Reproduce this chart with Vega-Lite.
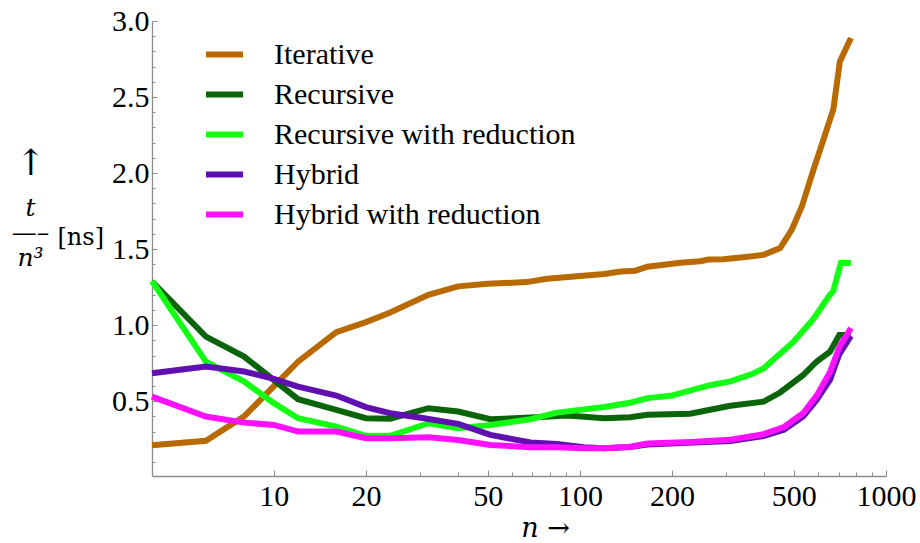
{
  "$schema": "https://vega.github.io/schema/vega-lite/v6.json",
  "width": 734,
  "height": 455,
  "autosize": {"type": "none"},
  "padding": {"left": 152, "top": 21, "right": 34, "bottom": 67},
  "background": "white",
  "config": {
    "view": {"stroke": null},
    "font": "Times New Roman, Liberation Serif, serif",
    "axis": {"labelFont": "Times New Roman, Liberation Serif, serif"},
    "legend": {"labelFont": "Times New Roman, Liberation Serif, serif"}
  },
  "data": {
    "values": [
      {"s": "Iterative", "n": 4, "t": 0.21},
      {"s": "Iterative", "n": 6, "t": 0.24},
      {"s": "Iterative", "n": 8, "t": 0.40},
      {"s": "Iterative", "n": 12, "t": 0.76},
      {"s": "Iterative", "n": 16, "t": 0.954},
      {"s": "Iterative", "n": 20, "t": 1.02},
      {"s": "Iterative", "n": 24, "t": 1.083},
      {"s": "Iterative", "n": 32, "t": 1.199},
      {"s": "Iterative", "n": 40, "t": 1.255},
      {"s": "Iterative", "n": 50, "t": 1.272},
      {"s": "Iterative", "n": 67, "t": 1.283},
      {"s": "Iterative", "n": 78, "t": 1.305},
      {"s": "Iterative", "n": 120, "t": 1.337},
      {"s": "Iterative", "n": 136, "t": 1.353},
      {"s": "Iterative", "n": 152, "t": 1.358},
      {"s": "Iterative", "n": 166, "t": 1.384},
      {"s": "Iterative", "n": 213, "t": 1.41},
      {"s": "Iterative", "n": 247, "t": 1.42},
      {"s": "Iterative", "n": 263, "t": 1.431},
      {"s": "Iterative", "n": 294, "t": 1.433},
      {"s": "Iterative", "n": 360, "t": 1.452},
      {"s": "Iterative", "n": 398, "t": 1.462},
      {"s": "Iterative", "n": 451, "t": 1.507},
      {"s": "Iterative", "n": 492, "t": 1.627},
      {"s": "Iterative", "n": 531, "t": 1.78},
      {"s": "Iterative", "n": 579, "t": 2.02},
      {"s": "Iterative", "n": 640, "t": 2.285},
      {"s": "Iterative", "n": 673, "t": 2.42},
      {"s": "Iterative", "n": 707, "t": 2.734},
      {"s": "Iterative", "n": 768, "t": 2.888},

      {"s": "Recursive", "n": 4, "t": 1.287},
      {"s": "Recursive", "n": 6, "t": 0.925},
      {"s": "Recursive", "n": 8, "t": 0.793},
      {"s": "Recursive", "n": 12, "t": 0.513},
      {"s": "Recursive", "n": 16, "t": 0.443},
      {"s": "Recursive", "n": 20, "t": 0.388},
      {"s": "Recursive", "n": 24, "t": 0.385},
      {"s": "Recursive", "n": 32, "t": 0.454},
      {"s": "Recursive", "n": 40, "t": 0.432},
      {"s": "Recursive", "n": 51, "t": 0.381},
      {"s": "Recursive", "n": 69, "t": 0.392},
      {"s": "Recursive", "n": 91, "t": 0.405},
      {"s": "Recursive", "n": 120, "t": 0.388},
      {"s": "Recursive", "n": 146, "t": 0.395},
      {"s": "Recursive", "n": 166, "t": 0.41},
      {"s": "Recursive", "n": 229, "t": 0.418},
      {"s": "Recursive", "n": 310, "t": 0.47},
      {"s": "Recursive", "n": 398, "t": 0.497},
      {"s": "Recursive", "n": 451, "t": 0.557},
      {"s": "Recursive", "n": 537, "t": 0.673},
      {"s": "Recursive", "n": 594, "t": 0.761},
      {"s": "Recursive", "n": 656, "t": 0.826},
      {"s": "Recursive", "n": 704, "t": 0.936},
      {"s": "Recursive", "n": 768, "t": 0.936},

      {"s": "Recursive with reduction", "n": 4, "t": 1.29},
      {"s": "Recursive with reduction", "n": 6, "t": 0.76},
      {"s": "Recursive with reduction", "n": 8, "t": 0.629},
      {"s": "Recursive with reduction", "n": 10, "t": 0.487},
      {"s": "Recursive with reduction", "n": 12, "t": 0.388},
      {"s": "Recursive with reduction", "n": 16, "t": 0.333},
      {"s": "Recursive with reduction", "n": 20, "t": 0.272},
      {"s": "Recursive with reduction", "n": 24, "t": 0.272},
      {"s": "Recursive with reduction", "n": 32, "t": 0.355},
      {"s": "Recursive with reduction", "n": 40, "t": 0.322},
      {"s": "Recursive with reduction", "n": 51, "t": 0.344},
      {"s": "Recursive with reduction", "n": 69, "t": 0.381},
      {"s": "Recursive with reduction", "n": 84, "t": 0.425},
      {"s": "Recursive with reduction", "n": 120, "t": 0.462},
      {"s": "Recursive with reduction", "n": 146, "t": 0.49},
      {"s": "Recursive with reduction", "n": 166, "t": 0.52},
      {"s": "Recursive with reduction", "n": 198, "t": 0.535},
      {"s": "Recursive with reduction", "n": 266, "t": 0.605},
      {"s": "Recursive with reduction", "n": 310, "t": 0.63},
      {"s": "Recursive with reduction", "n": 367, "t": 0.68},
      {"s": "Recursive with reduction", "n": 398, "t": 0.715},
      {"s": "Recursive with reduction", "n": 498, "t": 0.89},
      {"s": "Recursive with reduction", "n": 579, "t": 1.04},
      {"s": "Recursive with reduction", "n": 656, "t": 1.2},
      {"s": "Recursive with reduction", "n": 672, "t": 1.221},
      {"s": "Recursive with reduction", "n": 712, "t": 1.408},
      {"s": "Recursive with reduction", "n": 768, "t": 1.408},

      {"s": "Hybrid", "n": 4, "t": 0.684},
      {"s": "Hybrid", "n": 6, "t": 0.728},
      {"s": "Hybrid", "n": 8, "t": 0.695},
      {"s": "Hybrid", "n": 10, "t": 0.647},
      {"s": "Hybrid", "n": 12, "t": 0.596},
      {"s": "Hybrid", "n": 16, "t": 0.537},
      {"s": "Hybrid", "n": 20, "t": 0.461},
      {"s": "Hybrid", "n": 24, "t": 0.421},
      {"s": "Hybrid", "n": 31, "t": 0.388},
      {"s": "Hybrid", "n": 40, "t": 0.351},
      {"s": "Hybrid", "n": 51, "t": 0.278},
      {"s": "Hybrid", "n": 69, "t": 0.228},
      {"s": "Hybrid", "n": 84, "t": 0.219},
      {"s": "Hybrid", "n": 103, "t": 0.197},
      {"s": "Hybrid", "n": 120, "t": 0.191},
      {"s": "Hybrid", "n": 146, "t": 0.198},
      {"s": "Hybrid", "n": 166, "t": 0.215},
      {"s": "Hybrid", "n": 310, "t": 0.238},
      {"s": "Hybrid", "n": 398, "t": 0.27},
      {"s": "Hybrid", "n": 464, "t": 0.312},
      {"s": "Hybrid", "n": 537, "t": 0.40},
      {"s": "Hybrid", "n": 594, "t": 0.51},
      {"s": "Hybrid", "n": 656, "t": 0.64},
      {"s": "Hybrid", "n": 704, "t": 0.81},
      {"s": "Hybrid", "n": 768, "t": 0.93},

      {"s": "Hybrid with reduction", "n": 4, "t": 0.53},
      {"s": "Hybrid with reduction", "n": 6, "t": 0.399},
      {"s": "Hybrid with reduction", "n": 8, "t": 0.359},
      {"s": "Hybrid with reduction", "n": 10, "t": 0.344},
      {"s": "Hybrid with reduction", "n": 12, "t": 0.30},
      {"s": "Hybrid with reduction", "n": 16, "t": 0.30},
      {"s": "Hybrid with reduction", "n": 20, "t": 0.256},
      {"s": "Hybrid with reduction", "n": 24, "t": 0.256},
      {"s": "Hybrid with reduction", "n": 32, "t": 0.263},
      {"s": "Hybrid with reduction", "n": 40, "t": 0.245},
      {"s": "Hybrid with reduction", "n": 51, "t": 0.212},
      {"s": "Hybrid with reduction", "n": 69, "t": 0.197},
      {"s": "Hybrid with reduction", "n": 84, "t": 0.197},
      {"s": "Hybrid with reduction", "n": 103, "t": 0.191},
      {"s": "Hybrid with reduction", "n": 120, "t": 0.19},
      {"s": "Hybrid with reduction", "n": 146, "t": 0.201},
      {"s": "Hybrid with reduction", "n": 166, "t": 0.222},
      {"s": "Hybrid with reduction", "n": 229, "t": 0.232},
      {"s": "Hybrid with reduction", "n": 310, "t": 0.247},
      {"s": "Hybrid with reduction", "n": 398, "t": 0.283},
      {"s": "Hybrid with reduction", "n": 464, "t": 0.33},
      {"s": "Hybrid with reduction", "n": 537, "t": 0.422},
      {"s": "Hybrid with reduction", "n": 594, "t": 0.538},
      {"s": "Hybrid with reduction", "n": 656, "t": 0.69},
      {"s": "Hybrid with reduction", "n": 704, "t": 0.856},
      {"s": "Hybrid with reduction", "n": 768, "t": 0.98}
    ]
  },
  "encoding": {
    "x": {
      "field": "n",
      "type": "quantitative",
      "scale": {"type": "log", "domain": [4, 1000], "nice": false},
      "axis": {
        "values": [10, 20, 30, 40, 50, 60, 70, 80, 90, 100, 200, 300, 400, 500, 600, 700, 800, 900, 1000],
        "labelExpr": "indexof([10,20,50,100,200,500,1000], datum.value) >= 0 ? '' + datum.value : ''",
        "labelOverlap": false,
        "labelFlush": false,
        "labelBound": false,
        "grid": false,
        "domainColor": "#8c8c8c",
        "domainWidth": 1.3,
        "tickColor": "#8c8c8c",
        "tickWidth": 1,
        "tickSize": {"condition": {"test": "indexof([10,20,50,100,200,500,1000], datum.value) >= 0", "value": -6}, "value": -4},
        "labelPadding": 11,
        "labelFontSize": 30,
        "labelColor": "black",
        "title": "n →",
        "titleFont": "DejaVu Serif",
        "titleFontStyle": "italic",
        "titleFontWeight": "normal",
        "titleFontSize": 27,
        "titleColor": "black",
        "titleAlign": "center",
        "titleBaseline": "alphabetic",
        "titleX": 393,
        "titleY": 60
      }
    },
    "color": {
      "field": "s",
      "type": "nominal",
      "scale": {
        "domain": ["Iterative", "Recursive", "Recursive with reduction", "Hybrid", "Hybrid with reduction"],
        "range": ["#B86A00", "#0A640A", "#14FF14", "#6010B0", "#FF10FF"]
      },
      "legend": {
        "title": null,
        "orient": "none",
        "legendX": 51,
        "legendY": 12,
        "padding": 0,
        "symbolType": "stroke",
        "symbolSize": 1369,
        "symbolStrokeWidth": 6,
        "labelFontSize": 30,
        "labelColor": "black",
        "labelOffset": 28,
        "rowPadding": 3,
        "labelLimit": 0
      }
    },
    "order": {"field": "n", "type": "quantitative"}
  },
  "layer": [
    {
      "transform": [{"filter": {"field": "s", "oneOf": ["Iterative", "Recursive", "Recursive with reduction"]}}],
      "mark": {"type": "line", "strokeWidth": 6, "strokeJoin": "miter", "clip": false},
      "encoding": {
        "y": {
          "field": "t",
          "type": "quantitative",
          "scale": {"domain": [0.008, 3.0], "nice": false, "zero": false},
          "axis": {
            "orient": "left",
            "values": [0.1, 0.2, 0.3, 0.4, 0.5, 0.6, 0.7, 0.8, 0.9, 1.0, 1.1, 1.2, 1.3, 1.4, 1.5, 1.6, 1.7, 1.8, 1.9, 2.0, 2.1, 2.2, 2.3, 2.4, 2.5, 2.6, 2.7, 2.8, 2.9, 3.0],
            "labelExpr": "indexof([0.5,1,1.5,2,2.5,3], datum.value) >= 0 ? format(datum.value, '.1f') : ''",
            "labelOverlap": false,
            "labelFlush": false,
            "labelBound": false,
            "grid": false,
            "domainColor": "#8c8c8c",
            "domainWidth": 1.3,
            "tickColor": "#8c8c8c",
            "tickWidth": 1,
            "tickSize": {"condition": {"test": "indexof([0.5,1,1.5,2,2.5,3], datum.value) >= 0", "value": -5}, "value": -3},
            "labelPadding": 8,
            "labelFontSize": 30,
            "labelColor": "black",
            "title": "[ns]",
            "titleFont": "DejaVu Serif",
            "titleFontWeight": "normal",
            "titleFontSize": 24,
            "titleColor": "black",
            "titleAngle": 0,
            "titleAlign": "left",
            "titleBaseline": "alphabetic",
            "titleX": -95,
            "titleY": 223
          }
        }
      }
    },
    {
      "transform": [{"filter": {"field": "s", "equal": "Hybrid"}}],
      "mark": {"type": "line", "strokeWidth": 6, "strokeJoin": "miter", "clip": false},
      "encoding": {
        "y": {
          "field": "t",
          "type": "quantitative",
          "axis": {
            "orient": "left",
            "domain": false,
            "ticks": false,
            "labels": false,
            "grid": false,
            "title": ["t", "—–", "n³"],
            "titleFont": "DejaVu Serif",
            "titleFontStyle": "italic",
            "titleFontWeight": "normal",
            "titleFontSize": 25,
            "titleLineHeight": 25,
            "titleColor": "black",
            "titleAngle": 0,
            "titleAlign": "center",
            "titleBaseline": "alphabetic",
            "titleX": -122,
            "titleY": 194
          }
        }
      }
    },
    {
      "transform": [{"filter": {"field": "s", "equal": "Hybrid with reduction"}}],
      "mark": {"type": "line", "strokeWidth": 6, "strokeJoin": "miter", "clip": false},
      "encoding": {
        "y": {
          "field": "t",
          "type": "quantitative",
          "axis": {
            "orient": "left",
            "domain": false,
            "ticks": false,
            "labels": false,
            "grid": false,
            "title": "↑",
            "titleFont": "DejaVu Serif",
            "titleFontWeight": "normal",
            "titleFontSize": 36,
            "titleColor": "black",
            "titleAngle": 0,
            "titleAlign": "center",
            "titleBaseline": "alphabetic",
            "titleX": -122,
            "titleY": 153
          }
        }
      }
    }
  ],
  "resolve": {"axis": {"y": "independent"}}
}
